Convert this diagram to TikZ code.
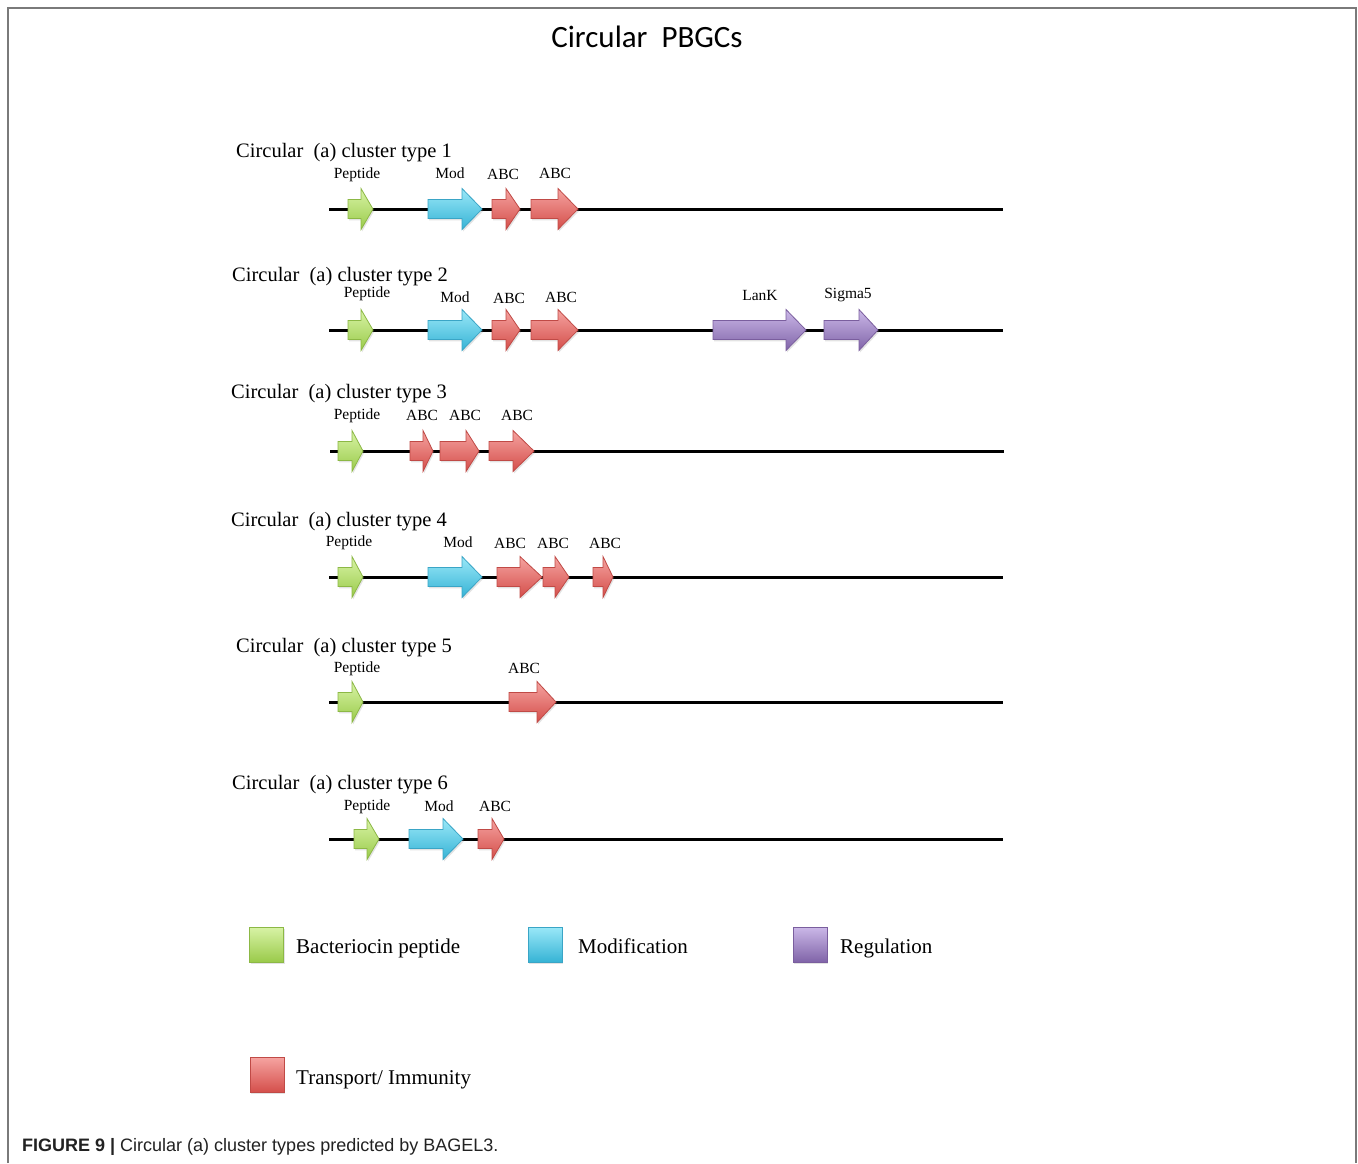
\documentclass[tikz,border=0pt]{standalone}
\usepackage{fontspec}
\setmainfont{Liberation Serif}
\newfontfamily\titlefont{Carlito}
\newfontfamily\capfont{Liberation Sans}
\usetikzlibrary{shadows}
\definecolor{gtop}{HTML}{D8F3A6}
\definecolor{gbot}{HTML}{9ACA4A}
\definecolor{gbrd}{HTML}{8CB845}
\definecolor{btop}{HTML}{9AE8F8}
\definecolor{bbot}{HTML}{36B3D5}
\definecolor{bbrd}{HTML}{3AA5C6}
\definecolor{rtop}{HTML}{F5A3A0}
\definecolor{rbot}{HTML}{D44E4A}
\definecolor{rbrd}{HTML}{C04A46}
\definecolor{ptop}{HTML}{CBB8E8}
\definecolor{pbot}{HTML}{8064A8}
\definecolor{pbrd}{HTML}{7A5E9E}
\definecolor{framec}{HTML}{7A7A7A}
\definecolor{capc}{HTML}{222222}
\tikzset{
  shad/.style={drop shadow={opacity=0.22,shadow xshift=1.2pt,shadow yshift=-1.8pt}},
  gfill/.style={shad,top color=gtop,bottom color=gbot,draw=gbrd,line width=0.8pt},
  bfill/.style={shad,top color=btop,bottom color=bbot,draw=bbrd,line width=0.8pt},
  rfill/.style={shad,top color=rtop,bottom color=rbot,draw=rbrd,line width=0.8pt},
  pfill/.style={shad,top color=ptop,bottom color=pbot,draw=pbrd,line width=0.8pt},
  dna/.style={line width=3pt,black},
  rowtitle/.style={anchor=west,inner sep=0pt,yshift=-2.5pt,font=\fontsize{20.5}{24}\selectfont},
  genelabel/.style={inner sep=0pt,yshift=-1.5pt,font=\fontsize{15.5}{18}\selectfont},
  legtext/.style={anchor=base west,inner sep=0pt,font=\fontsize{21}{25}\selectfont},
  legbox/.style={minimum width=34pt,minimum height=35pt,inner sep=0pt},
}
% #1 start x, #2 head base x, #3 tip x, #4 line y, #5 style
\newcommand{\genearrow}[5]{%
  \path[#5] (#1,#4-9.5) -- (#2,#4-9.5) -- (#2,#4-20.5) -- (#3,#4)
     -- (#2,#4+20.5) -- (#2,#4+9.5) -- (#1,#4+9.5) -- cycle;}
\begin{document}
\begin{tikzpicture}[x=1pt,y=-1pt]
\useasboundingbox (0,0) rectangle (1358,1163);
\fill[white] (0,0) rectangle (1358,1163);
\draw[framec,line width=2pt] (8,1163) -- (8,8) -- (1356,8) -- (1356,1163);

\node[inner sep=0pt,font=\titlefont\fontsize{31}{36}\selectfont] (title) at (647,37) {Circular\ \ PBGCs};

% ---------- Row 1
\node[rowtitle] (t1) at (236,150) {Circular\ \ (a) cluster type 1};
\coordinate (l1a) at (329,209); \coordinate (l1b) at (1003,209);
\draw[dna] (l1a) -- (l1b);
\genearrow{348}{361}{373}{209}{gfill}
\genearrow{428}{462}{482}{209}{bfill}
\genearrow{492}{506}{520}{209}{rfill}
\genearrow{531}{558}{578}{209}{rfill}
\node[genelabel] (p1) at (357,173) {Peptide};
\node[genelabel] (m1) at (450,172) {Mod};
\node[genelabel] (a11) at (503,173) {ABC};
\node[genelabel] (a12) at (555,172) {ABC};

% ---------- Row 2
\node[rowtitle] (t2) at (232,274) {Circular\ \ (a) cluster type 2};
\coordinate (l2a) at (329,330); \coordinate (l2b) at (1003,330);
\draw[dna] (l2a) -- (l2b);
\genearrow{348}{361}{373}{330}{gfill}
\genearrow{428}{462}{482}{330}{bfill}
\genearrow{492}{506}{520}{330}{rfill}
\genearrow{531}{558}{578}{330}{rfill}
\genearrow{713}{786}{806}{330}{pfill}
\genearrow{824}{859}{878}{330}{pfill}
\node[genelabel] (p2) at (367,292) {Peptide};
\node[genelabel] (m2) at (455,296) {Mod};
\node[genelabel] (a21) at (509,297) {ABC};
\node[genelabel] (a22) at (561,296) {ABC};
\node[genelabel] (k2) at (760,294) {LanK};
\node[genelabel] (s2) at (848,294) {Sigma5};

% ---------- Row 3
\node[rowtitle] (t3) at (231,391) {Circular\ \ (a) cluster type 3};
\coordinate (l3a) at (330,451); \coordinate (l3b) at (1004,451);
\draw[dna] (l3a) -- (l3b);
\genearrow{338}{352}{363}{451}{gfill}
\genearrow{410}{423}{433}{451}{rfill}
\genearrow{440}{466}{479}{451}{rfill}
\genearrow{489}{513}{534}{451}{rfill}
\node[genelabel] (p3) at (357,414) {Peptide};
\node[genelabel] (a31) at (422,414) {ABC};
\node[genelabel] (a32) at (465,414) {ABC};
\node[genelabel] (a33) at (517,414) {ABC};

% ---------- Row 4
\node[rowtitle] (t4) at (231,519) {Circular\ \ (a) cluster type 4};
\coordinate (l4a) at (329,577); \coordinate (l4b) at (1003,577);
\draw[dna] (l4a) -- (l4b);
\genearrow{338}{352}{363}{577}{gfill}
\genearrow{428}{462}{482}{577}{bfill}
\genearrow{497}{520}{542}{577}{rfill}
\genearrow{543}{555}{569}{577}{rfill}
\genearrow{593}{603}{613}{577}{rfill}
\node[genelabel] (p4) at (349,541) {Peptide};
\node[genelabel] (m4) at (458,541) {Mod};
\node[genelabel] (a41) at (510,542) {ABC};
\node[genelabel] (a42) at (553,542) {ABC};
\node[genelabel] (a43) at (605,542) {ABC};

% ---------- Row 5
\node[rowtitle] (t5) at (236,645) {Circular\ \ (a) cluster type 5};
\coordinate (l5a) at (329,702); \coordinate (l5b) at (1003,702);
\draw[dna] (l5a) -- (l5b);
\genearrow{338}{352}{363}{702}{gfill}
\genearrow{509}{537}{556}{702}{rfill}
\node[genelabel] (p5) at (357,667) {Peptide};
\node[genelabel] (a51) at (524,667) {ABC};

% ---------- Row 6
\node[rowtitle] (t6) at (232,782) {Circular\ \ (a) cluster type 6};
\coordinate (l6a) at (329,839); \coordinate (l6b) at (1003,839);
\draw[dna] (l6a) -- (l6b);
\genearrow{354}{367}{379}{839}{gfill}
\genearrow{409}{443}{463}{839}{bfill}
\genearrow{478}{492}{504}{839}{rfill}
\node[genelabel] (p6) at (367,805) {Peptide};
\node[genelabel] (m6) at (439,805) {Mod};
\node[genelabel] (a61) at (495,805) {ABC};

% ---------- Legend
\node[legbox,gfill] (kg) at (266.5,944.5) {};
\node[legtext] (kgt) at (296,953) {Bacteriocin peptide};
\node[legbox,bfill] (kb) at (545,944.5) {};
\node[legtext] (kbt) at (578,953) {Modification};
\node[legbox,pfill] (kp) at (810,944.5) {};
\node[legtext] (kpt) at (840,953) {Regulation};
\node[legbox,rfill] (kr) at (267,1075) {};
\node[legtext] (krt) at (296,1084) {Transport/ Immunity};

% ---------- Caption
\node[anchor=west,inner sep=0pt,text=capc,font=\capfont\fontsize{18}{22}\selectfont] (cap) at (22,1147)
  {{\bfseries FIGURE 9 |} Circular (a) cluster types predicted by BAGEL3.};
\end{tikzpicture}
\end{document}
